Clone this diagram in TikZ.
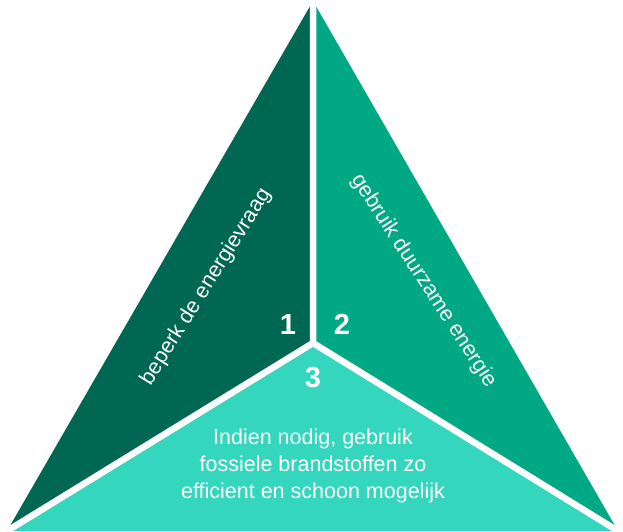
\documentclass[tikz,border=0pt]{standalone}
\usepackage{fontspec}
\setmainfont{Liberation Sans}
\definecolor{darkgreen}{RGB}{0,104,82}
\definecolor{midgreen}{RGB}{0,168,132}
\definecolor{lightgreen}{RGB}{52,214,190}
\begin{document}
\begin{tikzpicture}[x=1pt, y=-1pt, font=\fontsize{21.5}{27}\selectfont, text=white]
        \useasboundingbox (0,0) rectangle (623,531);
        \coordinate (apex) at (313,1);
        \coordinate (bl) at (7,531);
        \coordinate (br) at (618,531);
        \coordinate (mid) at (313,343);
        \fill[darkgreen] (apex) -- (mid) -- (bl) -- cycle;
        \fill[midgreen] (apex) -- (mid) -- (br) -- cycle;
        \fill[lightgreen] (mid) -- (bl) -- (br) -- cycle;
        \draw[white, line width=6.5pt] (mid)--(apex) (mid)--(bl) (mid)--(br);
        \node[rotate=58] (vraag) at (206,287) {beperk de energievraag};
        \node[rotate=-57] (duurzaam) at (424,281) {gebruik duurzame energie};
        \node[font=\fontsize{29}{29}\selectfont\bfseries] (een) at (288,325) {1};
        \node[font=\fontsize{29}{29}\selectfont\bfseries] (twee) at (342,324) {2};
        \node[font=\fontsize{29}{29}\selectfont\bfseries] (drie) at (313,378) {3};
        \node[align=center] (fossiel) at (313,466) {Indien nodig, gebruik\\fossiele brandstoffen zo\\efficient en schoon mogelijk};
      \end{tikzpicture}
\end{document}
